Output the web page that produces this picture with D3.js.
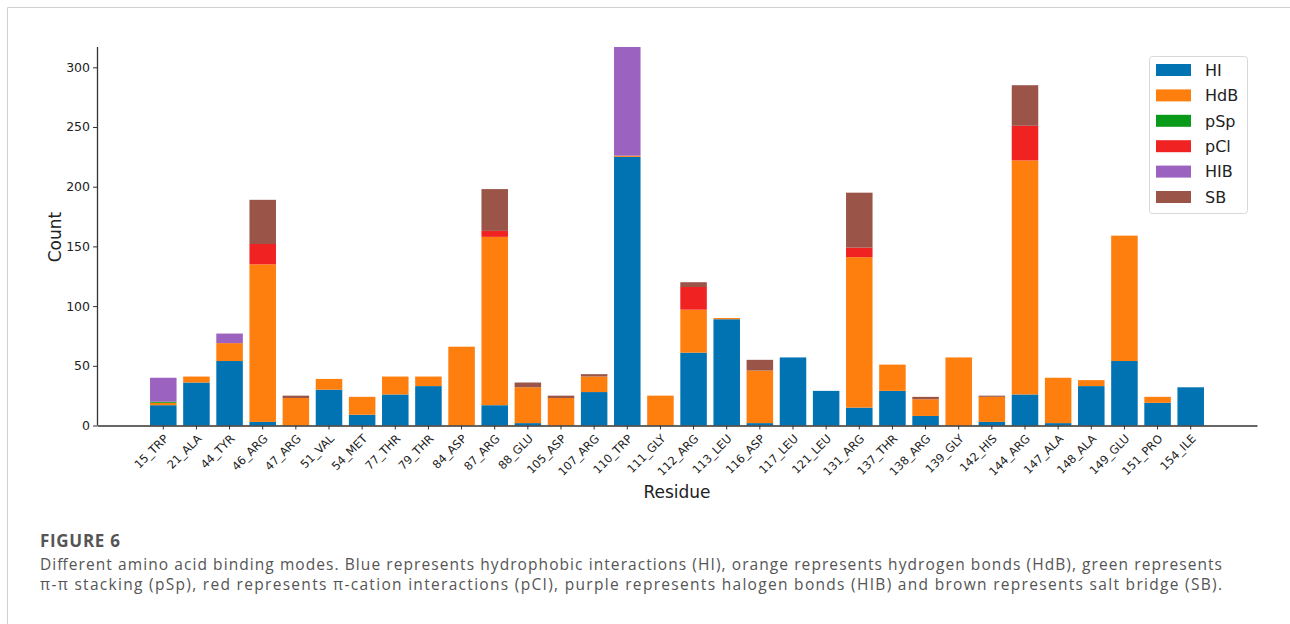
<!DOCTYPE html>
<html lang="en">
<head>
    <meta charset="UTF-8">
    <title>Binding modes</title>
    <script src="https://cdn.jsdelivr.net/npm/d3@7/dist/d3.min.js"></script>
    <style>
        body { margin: 0; background: #fff; }
        svg text { font-family: "DejaVu Sans", sans-serif; }
    </style>
</head>
<body>
<svg id="main" width="1290" height="624"></svg>
<script>
    // values
    const residues = ['15_TRP', '21_ALA', '44_TYR', '46_ARG', '47_ARG', '51_VAL', '54_MET', '77_THR',
        '79_THR', '84_ASP', '87_ARG', '88_GLU', '105_ASP', '107_ARG', '110_TRP', '111_GLY',
        '112_ARG', '113_LEU', '116_ASP', '117_LEU', '121_LEU', '131_ARG', '137_THR', '138_ARG',
        '139_GLY', '142_HIS', '144_ARG', '147_ALA', '148_ALA', '149_GLU', '151_PRO', '154_ILE'];

    const HI  = [17, 36, 54, 3, 0, 30, 9, 26, 33, 0, 17, 2, 0, 28, 225, 0, 61, 89, 2, 57, 29, 15, 29, 8, 0, 3, 26, 2, 33, 54, 19, 32];
    const HdB = [2, 5, 15, 132, 23, 9, 15, 15, 8, 66, 141, 30, 23, 13, 1, 25, 36, 1, 44, 0, 0, 126, 22, 14, 57, 21, 196, 38, 5, 105, 5, 0];
    const pSp = [1, 0, 0, 0, 0, 0, 0, 0, 0, 0, 0, 0, 0, 0, 0, 0, 0, 0, 0, 0, 0, 0, 0, 0, 0, 0, 0, 0, 0, 0, 0, 0];
    const pCl = [0, 0, 0, 17, 0, 0, 0, 0, 0, 0, 5, 0, 0, 0, 0, 0, 19, 0, 0, 0, 0, 8, 0, 0, 0, 0, 29, 0, 0, 0, 0, 0];
    const HIB = [20, 0, 8, 0, 0, 0, 0, 0, 0, 0, 0, 0, 0, 0, 91, 0, 0, 0, 0, 0, 0, 0, 0, 0, 0, 0, 0, 0, 0, 0, 0, 0];
    const SB  = [0, 0, 0, 37, 2, 0, 0, 0, 0, 0, 35, 4, 2, 2, 0, 0, 4, 0, 9, 0, 0, 46, 0, 2, 0, 1, 34, 0, 0, 0, 0, 0];

    const keys = ['HI', 'HdB', 'pSp', 'pCl', 'HIB', 'SB'];
    const series = {HI: HI, HdB: HdB, pSp: pSp, pCl: pCl, HIB: HIB, SB: SB};
    const colors = ['#0173b2', '#ff7f0e', '#0a9a1a', '#f02222', '#9b62c0', '#9a5548'];
    const yTicks = [0, 50, 100, 150, 200, 250, 300];

    let svg = d3.select('svg#main');

    // page frame
    svg.append('path')
        .attr('d', 'M7.5,624 V7.5 H1290')
        .attr('fill', 'none')
        .attr('stroke', '#d0d0d0');

    let plotLeft = 97, plotRight = 1257, plotTop = 47, plotBottom = 425.5;

    let rows = residues.map((r, i) => {
        let o = {residue: r};
        keys.forEach(k => o[k] = series[k][i]);
        return o;
    });
    let stacked = d3.stack().keys(keys)(rows);

    let x = d3.scaleBand()
        .domain(residues)
        .range([plotLeft, plotRight])
        .paddingInner(0.2)
        .paddingOuter(1.6);

    let y = d3.scaleLinear()
        .domain([0, 317])
        .range([plotBottom, plotTop]);

    svg.selectAll('g.layer')
        .data(stacked)
        .enter()
        .append('g')
        .attr('class', 'layer')
        .attr('fill', (d, i) => colors[i])
        .selectAll('rect')
        .data(d => d)
        .enter()
        .append('rect')
        .attr('x', d => x(d.data.residue))
        .attr('width', x.bandwidth())
        .attr('y', d => y(d[1]))
        .attr('height', d => y(d[0]) - y(d[1]));

    // axes
    let xAxis = svg.append('g')
        .attr('transform', 'translate(0,' + plotBottom + ')')
        .call(d3.axisBottom(x).tickSize(4).tickSizeOuter(0));
    xAxis.selectAll('text')
        .attr('x', 0).attr('y', 0).attr('dy', '0.35em')
        .attr('transform', 'translate(3,11) rotate(-45)')
        .style('text-anchor', 'end')
        .style('font-size', '11.5px')
        .attr('fill', '#222');

    let yAxis = svg.append('g')
        .attr('transform', 'translate(' + plotLeft + ',0)')
        .call(d3.axisLeft(y).tickValues(yTicks).tickSize(4).tickSizeOuter(0));
    yAxis.selectAll('text')
        .style('font-size', '12.5px')
        .attr('fill', '#222');
    yAxis.select('.domain').attr('d', 'M0.5,' + plotTop + 'V' + plotBottom);

    svg.selectAll('.domain').attr('stroke', '#333').attr('stroke-width', 1.3);
    svg.selectAll('.tick line').attr('stroke', '#333');

    svg.append('text')
        .attr('transform', 'translate(61,237) rotate(-90)')
        .attr('text-anchor', 'middle')
        .style('font-size', '17px')
        .attr('fill', '#222')
        .text('Count');

    svg.append('text')
        .attr('x', (plotLeft + plotRight) / 2)
        .attr('y', 498)
        .attr('text-anchor', 'middle')
        .style('font-size', '17px')
        .attr('fill', '#222')
        .text('Residue');

    // legend
    let legend = svg.append('g').attr('transform', 'translate(1149,56)');
    legend.append('rect')
        .attr('x', 0.5).attr('y', 0.5)
        .attr('width', 98).attr('height', 157)
        .attr('rx', 3)
        .attr('fill', '#fff')
        .attr('fill-opacity', 0.8)
        .attr('stroke', '#d8d8d8');
    let item = legend.selectAll('.item').data(keys)
        .enter().append('g')
        .attr('class', 'item')
        .attr('transform', (d, i) => 'translate(7,' + (14 + i * 25.4) + ')');
    item.append('rect')
        .attr('x', 0).attr('y', -6)
        .attr('width', 35).attr('height', 12)
        .attr('fill', (d, i) => colors[i]);
    item.append('text')
        .attr('x', 49).attr('dy', '0.36em')
        .style('font-size', '16px')
        .attr('fill', '#222')
        .text(d => d);

    // caption
    let cap = svg.append('g').style('fill', '#555');
    cap.append('text')
        .attr('x', 40).attr('y', 547)
        .style('font-family', '"Open Sans", sans-serif')
        .style('font-size', '17px')
        .style('font-weight', 'bold')
        .style('letter-spacing', '0.7px')
        .text('FIGURE 6');
    cap.append('text')
        .attr('x', 40).attr('y', 570)
        .attr('textLength', 1182)
        .attr('lengthAdjust', 'spacing')
        .style('font-family', '"Open Sans", sans-serif')
        .style('font-size', '15.5px')
        .text('Different amino acid binding modes. Blue represents hydrophobic interactions (HI), orange represents hydrogen bonds (HdB), green represents');
    cap.append('text')
        .attr('x', 40).attr('y', 590)
        .attr('textLength', 1182)
        .attr('lengthAdjust', 'spacing')
        .style('font-family', '"Open Sans", sans-serif')
        .style('font-size', '15.5px')
        .text('π-π stacking (pSp), red represents π-cation interactions (pCI), purple represents halogen bonds (HIB) and brown represents salt bridge (SB).');
</script>
</body>
</html>
